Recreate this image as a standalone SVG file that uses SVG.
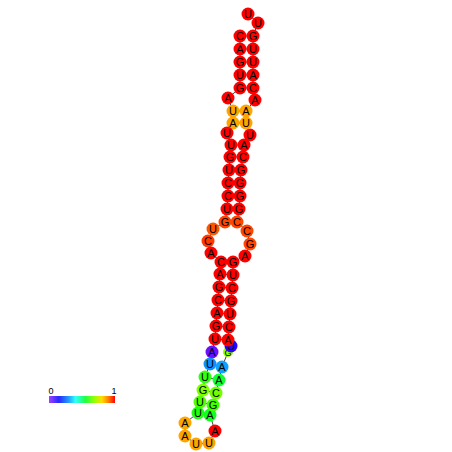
<svg xmlns="http://www.w3.org/2000/svg" width="452" height="452" viewBox="0 0 452 452">
<style>
.bb{stroke:#444;stroke-width:1;fill:none}
.bp{stroke:#444;stroke-width:1}
circle{stroke:none}
text{font-family:"Liberation Sans",Arial,sans-serif;font-size:11px;text-anchor:middle;fill:#000}
.r{fill:#ff0000}.o{fill:#ffa500}.x{fill:#ff4500}
</style>
<defs>
<linearGradient id="cb" x1="0" x2="1" y1="0" y2="0">
<stop offset="0" stop-color="#a040ff"/>
<stop offset="0.15" stop-color="#2828ff"/>
<stop offset="0.3" stop-color="#20a0ff"/>
<stop offset="0.4" stop-color="#30ffff"/>
<stop offset="0.55" stop-color="#20ff40"/>
<stop offset="0.7" stop-color="#a0ff00"/>
<stop offset="0.8" stop-color="#ffdd00"/>
<stop offset="0.9" stop-color="#ff8000"/>
<stop offset="1" stop-color="#ff0000"/>
</linearGradient>
</defs>
<g id="connectors">
<polyline class="bb" points="240,36 240,49 240,62 240,75 240,88 228,98 233,111 233,123 227,133 231,145 230,157 229,170 228,183 228,196 227,209 225,222 213,229 208,241 211,253 221,262 220,274 219,287 218,300 217,313 216,326 215,339 212,352 210,364 205,377 203,390 200,402 198,413 185,423 185,436 196,444 209,443 215,431 210,415 213,405 216,393 219,380 222,367 228,352 231,346 228,340 229,327 230,314 231,301 232,288 233,275 233,262 245,256 250,244 247,231 237,222 239,209 240,196 240,183 241,170 243,157 244,145 250,135 246,123 246,111 255,100 253,88 253,75 253,62 253,49 253,36 258,23 248,14"/>
<line class="bp" x1="240" y1="36" x2="253" y2="36"/>
<line class="bp" x1="240" y1="49" x2="253" y2="49"/>
<line class="bp" x1="240" y1="62" x2="253" y2="62"/>
<line class="bp" x1="240" y1="75" x2="253" y2="75"/>
<line class="bp" x1="240" y1="88" x2="253" y2="88"/>
<line class="bp" x1="233" y1="111" x2="246" y2="111"/>
<line class="bp" x1="233" y1="123" x2="246" y2="123"/>
<line class="bp" x1="231" y1="145" x2="244" y2="145"/>
<line class="bp" x1="230" y1="157" x2="243" y2="157"/>
<line class="bp" x1="229" y1="170" x2="241" y2="170"/>
<line class="bp" x1="228" y1="183" x2="240" y2="183"/>
<line class="bp" x1="228" y1="196" x2="240" y2="196"/>
<line class="bp" x1="227" y1="209" x2="239" y2="209"/>
<line class="bp" x1="225" y1="222" x2="237" y2="222"/>
<line class="bp" x1="221" y1="262" x2="233" y2="262"/>
<line class="bp" x1="220" y1="274" x2="233" y2="275"/>
<line class="bp" x1="219" y1="287" x2="232" y2="288"/>
<line class="bp" x1="218" y1="300" x2="231" y2="301"/>
<line class="bp" x1="217" y1="313" x2="230" y2="314"/>
<line class="bp" x1="216" y1="326" x2="229" y2="327"/>
<line class="bp" x1="215" y1="339" x2="228" y2="340"/>
<line class="bp" x1="210" y1="364" x2="222" y2="367"/>
<line class="bp" x1="205" y1="377" x2="219" y2="380"/>
<line class="bp" x1="203" y1="390" x2="216" y2="393"/>
<line class="bp" x1="200" y1="402" x2="213" y2="405"/>
<line class="bp" x1="198" y1="413" x2="210" y2="415"/>
</g>
<g id="n1"><circle class="r" cx="240" cy="36" r="6.5"/><text x="240" y="40">C</text></g>
<g id="n2"><circle class="r" cx="240" cy="49" r="6.5"/><text x="240" y="53">A</text></g>
<g id="n3"><circle class="r" cx="240" cy="62" r="6.5"/><text x="240" y="66">G</text></g>
<g id="n4"><circle class="r" cx="240" cy="75" r="6.5"/><text x="240" y="79">U</text></g>
<g id="n5"><circle class="r" cx="240" cy="88" r="6.5"/><text x="240" y="92">G</text></g>
<g id="n6"><circle class="r" cx="228" cy="98" r="6.5"/><text x="228" y="102">A</text></g>
<g id="n7"><circle class="o" cx="233" cy="111" r="6.5"/><text x="233" y="115">U</text></g>
<g id="n8"><circle class="o" cx="233" cy="123" r="6.5"/><text x="233" y="127">A</text></g>
<g id="n9"><circle class="r" cx="227" cy="133" r="6.5"/><text x="227" y="137">U</text></g>
<g id="n10"><circle class="r" cx="231" cy="145" r="6.5"/><text x="231" y="149">U</text></g>
<g id="n11"><circle class="r" cx="230" cy="157" r="6.5"/><text x="230" y="161">G</text></g>
<g id="n12"><circle class="r" cx="229" cy="170" r="6.5"/><text x="229" y="174">U</text></g>
<g id="n13"><circle class="r" cx="228" cy="183" r="6.5"/><text x="228" y="187">C</text></g>
<g id="n14"><circle class="r" cx="228" cy="196" r="6.5"/><text x="228" y="200">C</text></g>
<g id="n15"><circle class="r" cx="227" cy="209" r="6.5"/><text x="227" y="213">U</text></g>
<g id="n16"><circle class="x" cx="225" cy="222" r="6.5"/><text x="225" y="226">G</text></g>
<g id="n17"><circle fill="#ff5500" cx="213" cy="229" r="6.5"/><text x="213" y="233">U</text></g>
<g id="n18"><circle fill="#ff3a00" cx="208" cy="241" r="6.5"/><text x="208" y="245">C</text></g>
<g id="n19"><circle class="r" cx="211" cy="253" r="6.5"/><text x="211" y="257">A</text></g>
<g id="n20"><circle class="r" cx="221" cy="262" r="6.5"/><text x="221" y="266">C</text></g>
<g id="n21"><circle class="r" cx="220" cy="274" r="6.5"/><text x="220" y="278">A</text></g>
<g id="n22"><circle class="r" cx="219" cy="287" r="6.5"/><text x="219" y="291">G</text></g>
<g id="n23"><circle class="r" cx="218" cy="300" r="6.5"/><text x="218" y="304">C</text></g>
<g id="n24"><circle class="r" cx="217" cy="313" r="6.5"/><text x="217" y="317">A</text></g>
<g id="n25"><circle class="r" cx="216" cy="326" r="6.5"/><text x="216" y="330">G</text></g>
<g id="n26"><circle class="r" cx="215" cy="339" r="6.5"/><text x="215" y="343">U</text></g>
<g id="n27"><circle fill="#6a10ff" cx="212" cy="352" r="6.5"/><text x="212" y="356">A</text></g>
<g id="n28"><circle fill="#1090ff" cx="210" cy="364" r="6.5"/><text x="210" y="368">U</text></g>
<g id="n29"><circle fill="#30ff10" cx="205" cy="377" r="6.5"/><text x="205" y="381">U</text></g>
<g id="n30"><circle fill="#80ff00" cx="203" cy="390" r="6.5"/><text x="203" y="394">G</text></g>
<g id="n31"><circle fill="#50ff00" cx="200" cy="402" r="6.5"/><text x="200" y="406">U</text></g>
<g id="n32"><circle fill="#20ff10" cx="198" cy="413" r="6.5"/><text x="198" y="417">U</text></g>
<g id="n33"><circle class="o" cx="185" cy="423" r="6.5"/><text x="185" y="427">A</text></g>
<g id="n34"><circle class="o" cx="185" cy="436" r="6.5"/><text x="185" y="440">A</text></g>
<g id="n35"><circle class="o" cx="196" cy="444" r="6.5"/><text x="196" y="448">U</text></g>
<g id="n36"><circle fill="#ffa000" cx="209" cy="443" r="6.5"/><text x="209" y="447">U</text></g>
<g id="n37"><circle class="r" cx="215" cy="431" r="6.5"/><text x="215" y="435">A</text></g>
<g id="n38"><circle fill="#10ff20" cx="210" cy="415" r="6.5"/><text x="210" y="419">A</text></g>
<g id="n39"><circle fill="#40ff00" cx="213" cy="405" r="6.5"/><text x="213" y="409">G</text></g>
<g id="n40"><circle fill="#70ff00" cx="216" cy="393" r="6.5"/><text x="216" y="397">C</text></g>
<g id="n41"><circle fill="#10ff30" cx="219" cy="380" r="6.5"/><text x="219" y="384">A</text></g>
<g id="n42"><circle fill="#10a0ff" cx="222" cy="367" r="6.5"/><text x="222" y="371">A</text></g>
<g id="n43"><circle fill="#90ff00" cx="228" cy="352" r="5"/><text x="228" y="356" style="font-size:9px">G</text></g>
<g id="n44"><circle fill="#2a00ff" cx="231" cy="346" r="6.5"/><text x="231" y="350">U</text></g>
<g id="n45"><circle class="r" cx="228" cy="340" r="6.5"/><text x="228" y="344">A</text></g>
<g id="n46"><circle class="r" cx="229" cy="327" r="6.5"/><text x="229" y="331">C</text></g>
<g id="n47"><circle class="r" cx="230" cy="314" r="6.5"/><text x="230" y="318">U</text></g>
<g id="n48"><circle class="r" cx="231" cy="301" r="6.5"/><text x="231" y="305">G</text></g>
<g id="n49"><circle class="r" cx="232" cy="288" r="6.5"/><text x="232" y="292">C</text></g>
<g id="n50"><circle class="r" cx="233" cy="275" r="6.5"/><text x="233" y="279">U</text></g>
<g id="n51"><circle class="r" cx="233" cy="262" r="6.5"/><text x="233" y="266">G</text></g>
<g id="n52"><circle class="r" cx="245" cy="256" r="6.5"/><text x="245" y="260">A</text></g>
<g id="n53"><circle class="x" cx="250" cy="244" r="6.5"/><text x="250" y="248">G</text></g>
<g id="n54"><circle class="x" cx="247" cy="231" r="6.5"/><text x="247" y="235">C</text></g>
<g id="n55"><circle class="x" cx="237" cy="222" r="6.5"/><text x="237" y="226">C</text></g>
<g id="n56"><circle class="r" cx="239" cy="209" r="6.5"/><text x="239" y="213">G</text></g>
<g id="n57"><circle class="r" cx="240" cy="196" r="6.5"/><text x="240" y="200">G</text></g>
<g id="n58"><circle class="r" cx="240" cy="183" r="6.5"/><text x="240" y="187">G</text></g>
<g id="n59"><circle class="r" cx="241" cy="170" r="6.5"/><text x="241" y="174">G</text></g>
<g id="n60"><circle class="r" cx="243" cy="157" r="6.5"/><text x="243" y="161">C</text></g>
<g id="n61"><circle class="r" cx="244" cy="145" r="6.5"/><text x="244" y="149">A</text></g>
<g id="n62"><circle class="r" cx="250" cy="135" r="6.5"/><text x="250" y="139">U</text></g>
<g id="n63"><circle class="o" cx="246" cy="123" r="6.5"/><text x="246" y="127">U</text></g>
<g id="n64"><circle class="o" cx="246" cy="111" r="6.5"/><text x="246" y="115">A</text></g>
<g id="n65"><circle class="r" cx="255" cy="100" r="6.5"/><text x="255" y="104">A</text></g>
<g id="n66"><circle class="r" cx="253" cy="88" r="6.5"/><text x="253" y="92">C</text></g>
<g id="n67"><circle class="r" cx="253" cy="75" r="6.5"/><text x="253" y="79">A</text></g>
<g id="n68"><circle class="r" cx="253" cy="62" r="6.5"/><text x="253" y="66">U</text></g>
<g id="n69"><circle class="r" cx="253" cy="49" r="6.5"/><text x="253" y="53">U</text></g>
<g id="n70"><circle class="r" cx="253" cy="36" r="6.5"/><text x="253" y="40">G</text></g>
<g id="n71"><circle class="r" cx="258" cy="23" r="6.5"/><text x="258" y="27">U</text></g>
<g id="n72"><circle class="r" cx="248" cy="14" r="6.5"/><text x="248" y="18">U</text></g>
<g id="colorbar">
<rect x="49" y="396" width="66" height="7" fill="url(#cb)"/>
<text x="51" y="394" style="font-size:9px">0</text>
<text x="114" y="394" style="font-size:9px">1</text>
</g>
</svg>
